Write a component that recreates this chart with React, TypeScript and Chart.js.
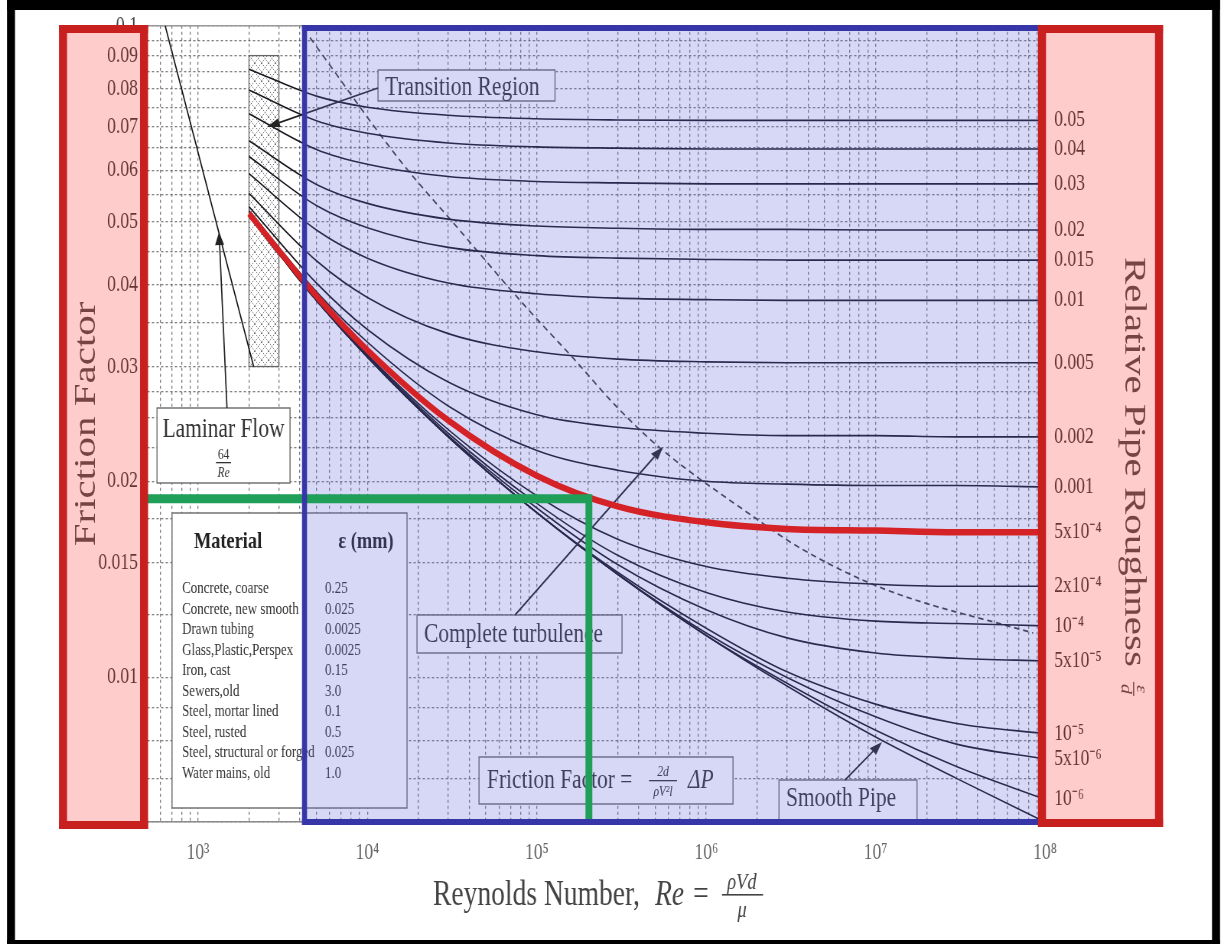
import React, { useEffect, useRef } from 'react';
import { Chart, registerables } from 'chart.js';

Chart.register(...registerables);

const SERIF = "'Liberation Serif', 'Times New Roman', Times, serif";

// ---------------- data ----------------
// Reynolds numbers at which every roughness curve was read
const RE_POINTS = [2e3, 5e3, 1e4, 3e4, 1e5, 3e5, 1e6, 3e6, 1e7, 3e7, 1e8];

// friction factor for each relative roughness eps/d
const F_005 = [0.0858, 0.078, 0.075, 0.0729, 0.072, 0.0717, 0.0716, 0.0716, 0.0716, 0.0716, 0.0716];
const F_004 = [0.0797, 0.0715, 0.0684, 0.0661, 0.0652, 0.0649, 0.0647, 0.0647, 0.0647, 0.0647, 0.0647];
const F_003 = [0.0733, 0.0646, 0.0613, 0.0587, 0.0577, 0.0574, 0.0572, 0.0572, 0.0572, 0.0572, 0.0572];
const F_002 = [0.0666, 0.0571, 0.0534, 0.0505, 0.0493, 0.0489, 0.0487, 0.0487, 0.0486, 0.0486, 0.0486];
const F_0015 = [0.063, 0.053, 0.049, 0.0457, 0.0444, 0.044, 0.0438, 0.0437, 0.0437, 0.0437, 0.0437];
const F_001 = [0.0593, 0.0486, 0.044, 0.0403, 0.0388, 0.0382, 0.038, 0.0379, 0.0379, 0.0379, 0.0379];
const F_0005 = [0.0553, 0.0436, 0.0383, 0.0337, 0.0316, 0.0308, 0.0305, 0.0304, 0.0304, 0.0304, 0.0304];
const F_0002 = [0.0528, 0.0403, 0.0342, 0.0284, 0.0253, 0.0242, 0.0237, 0.0235, 0.0235, 0.0234, 0.0234];
const F_0001 = [0.052, 0.0391, 0.0327, 0.0261, 0.0223, 0.0208, 0.02, 0.0198, 0.0197, 0.0197, 0.0196];
const F_5EM4 = [0.0515, 0.0385, 0.0318, 0.0248, 0.0204, 0.0183, 0.0173, 0.0169, 0.0168, 0.0167, 0.0167];
const F_2EM4 = [0.0513, 0.0381, 0.0313, 0.024, 0.019, 0.0163, 0.0148, 0.0142, 0.0139, 0.0138, 0.0138];
const F_1EM4 = [0.0512, 0.038, 0.0312, 0.0237, 0.0185, 0.0154, 0.0135, 0.0126, 0.0122, 0.0121, 0.012];
const F_5EM5 = [0.0511, 0.0379, 0.0311, 0.0235, 0.0182, 0.0149, 0.0127, 0.0115, 0.0109, 0.0107, 0.0106];
const F_1EM5 = [0.0511, 0.0379, 0.031, 0.0234, 0.0179, 0.0145, 0.0119, 0.0102, 0.0091, 0.0085, 0.0082];
const F_5EM6 = [0.0511, 0.0379, 0.031, 0.0234, 0.0179, 0.0144, 0.0117, 0.01, 0.0087, 0.0079, 0.0075];
const F_1EM6 = [0.0511, 0.0379, 0.031, 0.0234, 0.0179, 0.0144, 0.0116, 0.0098, 0.0083, 0.0073, 0.0065];
const F_SMOOTH = [0.0511, 0.0379, 0.031, 0.0234, 0.0179, 0.0144, 0.0116, 0.0097, 0.0081, 0.007, 0.006];

const ROUGHNESS_LABELS = [
  '0.05', '0.04', '0.03', '0.02', '0.015', '0.01', '0.005', '0.002', '0.001',
  '5x10⁻⁴', '2x10⁻⁴', '10⁻⁴', '5x10⁻⁵', '10⁻⁵', '5x10⁻⁶', '10⁻⁶',
];
const CURVE_VALUES = [
  F_005, F_004, F_003, F_002, F_0015, F_001, F_0005, F_0002, F_0001,
  F_5EM4, F_2EM4, F_1EM4, F_5EM5, F_1EM5, F_5EM6, F_1EM6, F_SMOOTH,
];
const HIGHLIGHT_INDEX = 9; // eps/d = 5x10^-4 (red)

// laminar flow line f = 64/Re
const LAMINAR_RE = [640, 2130];
const LAMINAR_F = [0.1, 0.03];

// dashed boundary of complete turbulence
const TURB_RE = [4580, 15600, 35200, 81800, 164000, 297000, 533000, 1810000, 3580000, 11000000, 85000000];
const TURB_F = [0.0959, 0.0621, 0.0485, 0.0376, 0.0309, 0.026, 0.0225, 0.0178, 0.0158, 0.0137, 0.0117];

// green read-off lines
const GREEN_RE = [500, 203000, 203000];
const GREEN_F = [0.0188, 0.0188, 0.006];

// hatched transition region
const HATCH_RE = [2000, 3000];
const HATCH_F = [0.03, 0.09];

// axes
const X_MIN = 500;
const X_MAX = 1e8;
const Y_MIN = 0.006;
const Y_MAX = 0.1;
const X_GRID_MANTISSAS = [1, 2, 3, 4, 5, 6, 7, 8, 9];
const X_GRID_DECADES = [100, 1e3, 1e4, 1e5, 1e6, 1e7];
const X_TICK_VALUES = [1e3, 1e4, 1e5, 1e6, 1e7, 1e8];
const X_TICK_LABELS = ['10³', '10⁴', '10⁵', '10⁶', '10⁷', '10⁸'];
const Y_GRID = [
  0.006, 0.007, 0.008, 0.009, 0.01, 0.0125, 0.015, 0.0175, 0.02, 0.0225, 0.025, 0.0275,
  0.03, 0.035, 0.04, 0.045, 0.05, 0.055, 0.06, 0.065, 0.07, 0.075, 0.08, 0.085, 0.09, 0.095, 0.1,
];
const Y_TICK_LABELS = [0.01, 0.015, 0.02, 0.03, 0.04, 0.05, 0.06, 0.07, 0.08, 0.09, 0.1];

// material table
const MATERIALS = [
  'Concrete, coarse', 'Concrete, new smooth', 'Drawn tubing', 'Glass,Plastic,Perspex', 'Iron, cast',
  'Sewers,old', 'Steel, mortar lined', 'Steel, rusted', 'Steel, structural or forged', 'Water mains, old',
];
const ROUGHNESS_MM = ['0.25', '0.025', '0.0025', '0.0025', '0.15', '3.0', '0.1', '0.5', '0.025', '1.0'];

// ---------------- derived tables ----------------
const X_GRID: number[] = [];
X_GRID_DECADES.forEach((d) => X_GRID_MANTISSAS.forEach((m) => { const v = m * d; if (v >= 600) X_GRID.push(v); }));
X_GRID.push(1e8);
const RIGHT_TICKS = ROUGHNESS_LABELS.map((_, i) => CURVE_VALUES[i][CURVE_VALUES[i].length - 1]);
const near = (a: number, b: number) => Math.abs(a - b) <= 1e-6 * Math.abs(b);

// ---------------- geometry (screen is horizontally squeezed) ----------------
const W_SCREEN = 1224;
const H_SCREEN = 944;
const W_CANVAS = 1600;
const K = W_CANVAS / W_SCREEN;
const X = (x: number) => x * K;
const TEXT = '#333333';

function fillS(ctx: CanvasRenderingContext2D, x1: number, y1: number, x2: number, y2: number, color: string) {
  ctx.fillStyle = color;
  ctx.fillRect(X(x1), y1, X(x2) - X(x1), y2 - y1);
}
function strokeS(ctx: CanvasRenderingContext2D, x1: number, y1: number, x2: number, y2: number, color: string, lw = 1.3) {
  ctx.setLineDash([]);
  ctx.strokeStyle = color;
  ctx.lineWidth = lw;
  ctx.strokeRect(X(x1), y1, X(x2) - X(x1), y2 - y1);
}
function textS(ctx: CanvasRenderingContext2D, s: string, x: number, y: number, size: number, color: string,
  opts: { align?: CanvasTextAlign; weight?: string; style?: string } = {}) {
  ctx.font = `${opts.style || 'normal'} ${opts.weight || 'normal'} ${size}px ${SERIF}`;
  ctx.fillStyle = color;
  ctx.textAlign = opts.align || 'left';
  ctx.textBaseline = 'alphabetic';
  ctx.fillText(s, X(x), y);
}
function arrowS(ctx: CanvasRenderingContext2D, x1: number, y1: number, x2: number, y2: number, color = '#222') {
  const ang = Math.atan2(y2 - y1, x2 - x1);
  const len = 13;
  const half = 4.5;
  const bx = x2 - len * Math.cos(ang);
  const by = y2 - len * Math.sin(ang);
  ctx.setLineDash([]);
  ctx.strokeStyle = color;
  ctx.fillStyle = color;
  ctx.lineWidth = 1.7;
  ctx.beginPath();
  ctx.moveTo(X(x1), y1);
  ctx.lineTo(X(bx), by);
  ctx.stroke();
  ctx.beginPath();
  ctx.moveTo(X(x2), y2);
  ctx.lineTo(X(bx - half * Math.sin(ang)), by + half * Math.cos(ang));
  ctx.lineTo(X(bx + half * Math.sin(ang)), by - half * Math.cos(ang));
  ctx.closePath();
  ctx.fill();
}
function boxS(ctx: CanvasRenderingContext2D, x1: number, y1: number, x2: number, y2: number) {
  fillS(ctx, x1, y1, x2, y2, '#ffffff');
  strokeS(ctx, x1, y1, x2, y2, '#6a6a6a', 1.4);
}
function frameS(ctx: CanvasRenderingContext2D, x1: number, y1: number, x2: number, y2: number, t: number, color: string) {
  fillS(ctx, x1, y1, x2, y1 + t, color);
  fillS(ctx, x1, y2 - t, x2, y2, color);
  fillS(ctx, x1, y1, x1 + t, y2, color);
  fillS(ctx, x2 - t, y1, x2, y2, color);
}

function makeHatch(ctx: CanvasRenderingContext2D) {
  const c = document.createElement('canvas');
  c.width = 9;
  c.height = 9;
  const g = c.getContext('2d')!;
  g.strokeStyle = 'rgba(70,70,70,0.85)';
  g.lineWidth = 0.9;
  g.setLineDash([1.5, 1.2]);
  g.beginPath();
  g.moveTo(0, 0); g.lineTo(9, 9);
  g.moveTo(9, 0); g.lineTo(0, 9);
  g.stroke();
  return ctx.createPattern(c, 'repeat');
}

function drawAnnotations(ctx: CanvasRenderingContext2D) {
  // Transition Region
  boxS(ctx, 378, 70, 555, 101);
  textS(ctx, 'Transition Region', 385, 95, 28, TEXT);
  arrowS(ctx, 378, 88, 267, 127);

  // Laminar flow
  boxS(ctx, 157, 408, 290, 483);
  textS(ctx, 'Laminar Flow', 223.5, 437, 28, TEXT, { align: 'center' });
  textS(ctx, '64', 223.5, 459, 15, TEXT, { align: 'center' });
  fillS(ctx, 216, 462, 231, 463.3, TEXT);
  textS(ctx, 'Re', 223.5, 477, 15, TEXT, { align: 'center', style: 'italic' });
  arrowS(ctx, 227, 408, 219, 232);

  // material table
  boxS(ctx, 172, 513, 407, 808);
  textS(ctx, 'Material', 228, 548, 24, '#222', { align: 'center', weight: 'bold' });
  textS(ctx, 'ε (mm)', 366, 548, 24, '#222', { align: 'center', weight: 'bold' });
  MATERIALS.forEach((m, i) => {
    textS(ctx, m, 182, 593 + i * 20.5, 17, '#333');
    textS(ctx, ROUGHNESS_MM[i], 325, 593 + i * 20.5, 17, '#333');
  });

  // Complete turbulence
  boxS(ctx, 417, 615, 622, 653);
  textS(ctx, 'Complete turbulence', 424, 642, 28, TEXT);
  arrowS(ctx, 515, 615, 663, 447);

  // formula
  boxS(ctx, 479, 757, 733, 804);
  textS(ctx, 'Friction Factor =', 487, 788, 28, TEXT);
  textS(ctx, '2d', 663, 776, 15, TEXT, { align: 'center', style: 'italic' });
  fillS(ctx, 649, 780, 677, 781.3, TEXT);
  textS(ctx, 'ρV²l', 663, 796, 15, TEXT, { align: 'center', style: 'italic' });
  textS(ctx, 'ΔP', 688, 788, 28, TEXT, { style: 'italic' });

  // Smooth pipe
  boxS(ctx, 779, 780, 917, 821);
  textS(ctx, 'Smooth Pipe', 786, 806, 28, TEXT);
  arrowS(ctx, 845, 780, 882, 742);
}

const moodyPlugin = {
  id: 'moody',
  beforeDraw(chart: any) {
    const ctx: CanvasRenderingContext2D = chart.ctx;
    ctx.save();
    ctx.fillStyle = '#ffffff';
    ctx.fillRect(0, 0, chart.width, chart.height);
    fillS(ctx, 7, 0, 1220, 10, '#000');
    fillS(ctx, 7, 0, 15, 944, '#000');
    fillS(ctx, 1212, 0, 1220, 944, '#000');
    fillS(ctx, 7, 940, 1220, 944, '#000');
    ctx.restore();
  },
  beforeDatasetsDraw(chart: any) {
    const ctx: CanvasRenderingContext2D = chart.ctx;
    const { chartArea, scales } = chart;
    ctx.save();
    ctx.setLineDash([]);
    ctx.strokeStyle = '#9a9a9a';
    ctx.lineWidth = 1.5;
    ctx.beginPath();
    ctx.moveTo(chartArea.left, chartArea.top);
    ctx.lineTo(chartArea.right, chartArea.top);
    ctx.stroke();
    const x1 = scales.x.getPixelForValue(HATCH_RE[0]);
    const x2 = scales.x.getPixelForValue(HATCH_RE[1]);
    const y1 = scales.y.getPixelForValue(HATCH_F[1]);
    const y2 = scales.y.getPixelForValue(HATCH_F[0]);
    ctx.fillStyle = '#ffffff';
    ctx.fillRect(x1, y1, x2 - x1, y2 - y1);
    const pat = makeHatch(ctx);
    if (pat) {
      ctx.fillStyle = pat;
      ctx.fillRect(x1, y1, x2 - x1, y2 - y1);
    }
    ctx.strokeStyle = '#666';
    ctx.lineWidth = 1.3;
    ctx.strokeRect(x1, y1, x2 - x1, y2 - y1);
    ctx.restore();
  },
  beforeDatasetDraw(chart: any, args: any) {
    if (args.index !== HIGHLIGHT_INDEX) return;
    const ctx: CanvasRenderingContext2D = chart.ctx;
    ctx.save();
    drawAnnotations(ctx);
    fillS(ctx, 302, 25, 1040, 825, 'rgba(100,100,220,0.26)');
    ctx.restore();
  },
  afterDraw(chart: any) {
    const ctx: CanvasRenderingContext2D = chart.ctx;
    ctx.save();
    // x-axis title
    const TC = '#444';
    textS(ctx, 'Reynolds Number,', 433, 905, 36, TC);
    textS(ctx, 'Re', 655, 905, 36, TC, { style: 'italic' });
    textS(ctx, '=', 693, 905, 36, TC);
    textS(ctx, 'ρVd', 742, 889, 24, TC, { align: 'center', style: 'italic' });
    fillS(ctx, 722, 894, 763, 895.6, TC);
    textS(ctx, 'μ', 742, 917, 24, TC, { align: 'center', style: 'italic' });

    // right axis title (rotated, reading downwards)
    ctx.save();
    ctx.translate(X(1125), 257);
    ctx.rotate(Math.PI / 2);
    ctx.font = `41px ${SERIF}`;
    ctx.fillStyle = '#555';
    ctx.textAlign = 'left';
    ctx.textBaseline = 'alphabetic';
    const title = 'Relative Pipe Roughness';
    ctx.fillText(title, 0, 0);
    const w = ctx.measureText(title).width;
    ctx.font = `italic 20px ${SERIF}`;
    ctx.textAlign = 'center';
    const fx = w + 22;
    ctx.fillText('ε', fx, -15);
    ctx.fillRect(fx - 7, -12, 14, 1.5);
    ctx.fillText('d', fx, 5);
    ctx.restore();

    // pink overlays
    fillS(ctx, 59, 25, 148, 829, 'rgba(255,0,0,0.2)');
    fillS(ctx, 1038, 25, 1163, 827, 'rgba(255,0,0,0.2)');
    // blue frame
    fillS(ctx, 302, 25, 1040, 31, '#3636a8');
    fillS(ctx, 302, 25, 307, 825, '#3636a8');
    fillS(ctx, 302, 819, 1040, 825, '#3636a8');
    // red frames
    frameS(ctx, 59, 25, 148, 829, 8, '#c81f1f');
    frameS(ctx, 1038, 25, 1163, 827, 8, '#c81f1f');
    ctx.restore();
  },
};

function buildConfig(): any {
  const datasets: any[] = CURVE_VALUES.map((vals, i) => ({
    label: i < ROUGHNESS_LABELS.length ? ROUGHNESS_LABELS[i] : 'Smooth Pipe',
    data: RE_POINTS.map((re, j) => ({ x: re, y: vals[j] })),
    borderColor: i === HIGHLIGHT_INDEX ? '#d42226' : '#16161e',
    borderWidth: i === HIGHLIGHT_INDEX ? 6.5 : 1.6,
    order: i === HIGHLIGHT_INDEX ? -2 : 0,
    pointRadius: 0,
    cubicInterpolationMode: 'monotone',
    fill: false,
  }));
  datasets.push({
    label: 'Laminar',
    data: LAMINAR_RE.map((re, j) => ({ x: re, y: LAMINAR_F[j] })),
    borderColor: '#111',
    borderWidth: 1.6,
    pointRadius: 0,
    order: 0,
  });
  datasets.push({
    label: 'Complete turbulence',
    data: TURB_RE.map((re, j) => ({ x: re, y: TURB_F[j] })),
    borderColor: '#3a3a3a',
    borderWidth: 1.7,
    borderDash: [7, 5],
    pointRadius: 0,
    cubicInterpolationMode: 'monotone',
    order: 0,
  });
  datasets.push({
    label: 'Read-off',
    data: GREEN_RE.map((re, j) => ({ x: re, y: GREEN_F[j] })),
    borderColor: '#1f9f58',
    borderWidth: 9,
    borderJoinStyle: 'miter',
    borderCapStyle: 'butt',
    pointRadius: 0,
    order: -3,
  });

  const gridOpts = { color: 'rgba(75,75,75,0.72)', lineWidth: 1.3, drawTicks: false };
  const borderOpts = { display: true, color: '#8a8a8a', width: 1.5, dash: [3, 3] };

  return {
    type: 'line',
    data: { datasets },
    plugins: [moodyPlugin],
    options: {
      animation: false,
      responsive: false,
      maintainAspectRatio: false,
      devicePixelRatio: 1,
      events: [],
      layout: { padding: { left: 0, right: 0, top: 25, bottom: 0 } },
      plugins: { legend: { display: false }, tooltip: { enabled: false }, title: { display: false } },
      scales: {
        x: {
          type: 'logarithmic',
          position: 'bottom',
          min: X_MIN,
          max: X_MAX,
          afterBuildTicks: (s: any) => { s.ticks = X_GRID.map((v) => ({ value: v })); },
          afterFit: (s: any) => { s.height = H_SCREEN - 822; },
          grid: gridOpts,
          border: borderOpts,
          ticks: {
            autoSkip: false,
            maxRotation: 0,
            minRotation: 0,
            padding: 17,
            color: '#666',
            font: { family: SERIF, size: 23 },
            callback: (v: number) => {
              const i = X_TICK_VALUES.findIndex((t) => near(v, t));
              return i >= 0 ? X_TICK_LABELS[i] : '';
            },
          },
        },
        y: {
          type: 'logarithmic',
          position: 'left',
          min: Y_MIN,
          max: Y_MAX,
          afterBuildTicks: (s: any) => { s.ticks = Y_GRID.map((v) => ({ value: v })); },
          afterFit: (s: any) => { s.width = X(147); },
          grid: gridOpts,
          border: borderOpts,
          title: {
            display: true,
            text: 'Friction Factor',
            color: '#555',
            font: { family: SERIF, size: 41 },
            padding: { top: 89, bottom: 0 },
          },
          ticks: {
            autoSkip: false,
            padding: 12,
            color: '#444',
            font: { family: SERIF, size: 23 },
            callback: (v: number) => (Y_TICK_LABELS.some((t) => near(v, t)) ? String(v) : ''),
          },
        },
        yR: {
          type: 'logarithmic',
          position: 'right',
          min: Y_MIN,
          max: Y_MAX,
          afterBuildTicks: (s: any) => { s.ticks = RIGHT_TICKS.map((v) => ({ value: v })); },
          afterFit: (s: any) => { s.width = W_CANVAS - X(1045); },
          grid: { display: false, drawTicks: false },
          border: { display: false },
          ticks: {
            autoSkip: false,
            padding: 12,
            color: '#444',
            font: { family: SERIF, size: 23 },
            callback: (v: number) => {
              const i = RIGHT_TICKS.findIndex((t) => near(v, t));
              return i >= 0 ? ROUGHNESS_LABELS[i] : '';
            },
          },
        },
      },
    },
  };
}

export default function App() {
  const ref = useRef<HTMLCanvasElement>(null);
  useEffect(() => {
    const canvas = ref.current;
    if (!canvas) return;
    const chart = new Chart(canvas, buildConfig());
    return () => chart.destroy();
  }, []);
  return (
    <div style={{ position: 'fixed', left: 0, top: 0, width: W_SCREEN, height: H_SCREEN, background: '#fff' }}>
      <canvas
        ref={ref}
        width={W_CANVAS}
        height={H_SCREEN}
        style={{ width: `${W_SCREEN}px`, height: `${H_SCREEN}px`, display: 'block' }}
      />
    </div>
  );
}
